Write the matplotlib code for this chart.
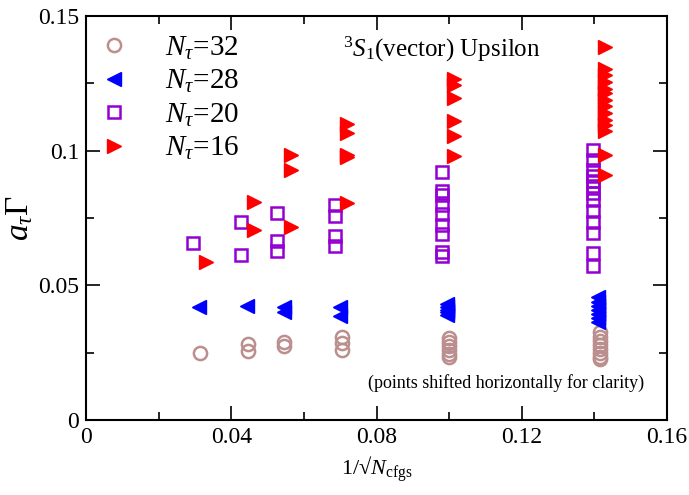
import matplotlib
matplotlib.use("Agg")
import matplotlib.pyplot as plt
from matplotlib.ticker import MultipleLocator

plt.rcParams["font.family"] = ["Liberation Serif", "DejaVu Serif"]
plt.rcParams["mathtext.fontset"] = "custom"
plt.rcParams["mathtext.rm"] = "Liberation Serif"
plt.rcParams["mathtext.it"] = "Liberation Serif:italic"

# decay widths a_tau*Gamma vs 1/sqrt(Ncfgs), one list per lattice extent
x32 = [0.0314] * 1 + [0.0445] * 2 + [0.0545] * 2 + [0.0705] * 3 + [0.0999] * 6 + [0.1415] * 8
y32 = [0.0250,
       0.0283, 0.0258,
       0.0291, 0.0273,
       0.0310, 0.0285, 0.0260,
       0.0305, 0.0290, 0.0275, 0.0260, 0.0245, 0.0235,
       0.0325, 0.0310, 0.0295, 0.0280, 0.0265, 0.0250, 0.0235, 0.0225]

x28 = [0.0310] + [0.0443] + [0.0544] * 2 + [0.0700] * 2 + [0.0995] * 5 + [0.1409] * 7
y28 = [0.0419,
       0.0424,
       0.0421, 0.0400,
       0.0421, 0.0388,
       0.0432, 0.0420, 0.0410, 0.0400, 0.0390,
       0.0455, 0.0440, 0.0425, 0.0410, 0.0395, 0.0380, 0.0365]

x20 = [0.0294] + [0.0426] * 2 + [0.0526] * 3 + [0.0685] * 4 + [0.0979] * 9 + [0.1395] * 13
y20 = [0.0657,
       0.0734, 0.0611,
       0.0769, 0.0663, 0.0626,
       0.0800, 0.0759, 0.0684, 0.0645,
       0.0922, 0.0850, 0.0835, 0.0800, 0.0765, 0.0725, 0.0690, 0.0625, 0.0610,
       0.1004, 0.0967, 0.0930, 0.0905, 0.0886, 0.0868, 0.0843, 0.0818, 0.0775,
       0.0734, 0.0694, 0.0622, 0.0573]

x16 = [0.0330] + [0.0462] * 2 + [0.0563] * 3 + [0.0720] * 5 + [0.1013] * 6 + [0.1430] * 14
y16 = [0.0585,
       0.0810, 0.0704,
       0.0983, 0.0928, 0.0716,
       0.1100, 0.1065, 0.0985, 0.0975, 0.0805,
       0.1265, 0.1245, 0.1195, 0.1110, 0.1055, 0.0982,
       0.1385, 0.1305, 0.1280, 0.1255, 0.1230, 0.1215, 0.1190, 0.1165, 0.1140,
       0.1115, 0.1095, 0.1075, 0.0985, 0.0911]

fig = plt.figure(figsize=(6.89, 4.95), dpi=100)
ax = fig.add_axes([0.125, 0.1515, 0.843, 0.816])

ax.plot(x32, y32, "o", ls="none", ms=9.5, mfc="none", mec="#bc8f8f", mew=1.8,
        label=r"$N_\tau$=32")
ax.plot(x28, y28, "<", ls="none", ms=10.5, color="#0000ff", label=r"$N_\tau$=28")
ax.plot(x20, y20, "s", ls="none", ms=8.5, mfc="none", mec="#9400d3", mew=1.8,
        label=r"$N_\tau$=20")
ax.plot(x16, y16, ">", ls="none", ms=10.5, color="#ff0000", label=r"$N_\tau$=16")

ax.set_xlim(0, 0.16)
ax.set_ylim(0, 0.15)
ax.set_xticks([0, 0.04, 0.08, 0.12, 0.16], ["0", "0.04", "0.08", "0.12", "0.16"])
ax.set_yticks([0, 0.05, 0.1, 0.15], ["0", "0.05", "0.1", "0.15"])
ax.xaxis.set_minor_locator(MultipleLocator(0.02))
ax.yaxis.set_minor_locator(MultipleLocator(0.025))
ax.tick_params(which="both", direction="in", top=True, right=True,
               labelsize=17, width=1.2)
ax.tick_params(which="major", length=10, pad=5)
ax.tick_params(which="minor", length=6)
for s in ax.spines.values():
    s.set_linewidth(1.5)

ax.set_xlabel("1/\u221a$N_{\\rm cfgs}$", fontsize=16, labelpad=5)
ax.set_ylabel(r"$a_\tau\Gamma$", fontsize=24, labelpad=2)

ax.text(0.442, 0.918, r"$^3S_1$(vector) Upsilon", transform=ax.transAxes,
        fontsize=18, va="center")
ax.text(0.96, 0.092, "(points shifted horizontally for clarity)",
        transform=ax.transAxes, fontsize=13, ha="right", va="center")

ax.legend(loc="upper left", bbox_to_anchor=(0, 0.98), frameon=False,
          fontsize=21, handletextpad=1.15, borderaxespad=0.1,
          labelspacing=0.22, handlelength=1.2, borderpad=0.25)

fig.savefig("out.png", dpi=100)
